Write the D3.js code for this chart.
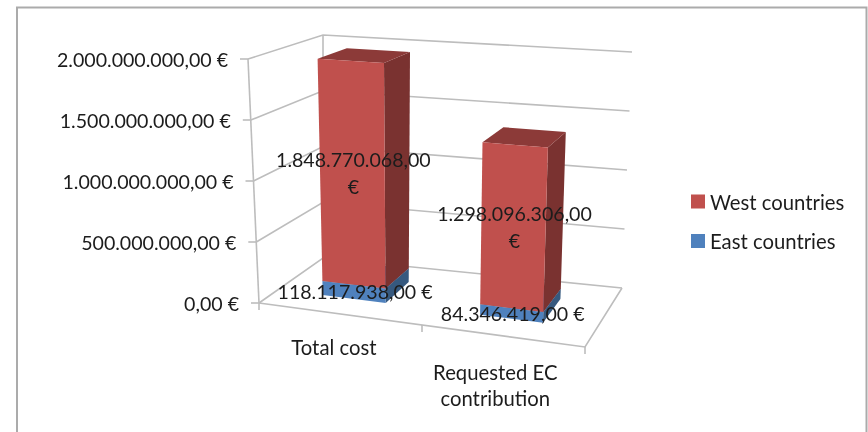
<!DOCTYPE html>
<html><head><meta charset="utf-8">
<script src="https://cdn.jsdelivr.net/npm/d3@7"></script>
<style>
html,body{margin:0;padding:0;background:#fff;overflow:hidden}
svg{display:block;filter:blur(0.45px)}
text{font-family:Lato,sans-serif;font-size:19.6px;fill:#1c1c1c}
text.word{font-size:20.3px}
</style></head><body><svg id="c" width="868" height="432"></svg>
<script>
const categories = ["Total cost", "Requested EC contribution"];
const categoryLines = [["Total cost"], ["Requested EC", "contribution"]];
const westCountries = [1848770068, 1298096306];
const eastCountries = [118117938, 84346419];
const yTicks = [0, 500000000, 1000000000, 1500000000, 2000000000];
const legendLabels = ["West countries", "East countries"];

const svg = d3.select("#c");
const locale = d3.formatLocale({decimal: ",", thousands: ".", grouping: [3], currency: ["", " €"]});
const fmt = v => locale.format(",.2f")(v) + " €";

// 3D box corners as drawn on the page
const floor = {fl: [259, 303], bl: [323, 258], br: [622, 288], fr: [585, 347]};
const roof  = {fl: [248, 59],  bl: [323, 35],  br: [632, 52],  fr: [595, 82]};

const uScale = d3.scaleBand().domain(categories).range([-0.0085, 0.9815]).paddingInner(0.6).paddingOuter(0.3);
const hScale = d3.scaleLinear().domain([0, 2000000000]).range([0, 1]);
const lerp = (a, b, t) => [a[0] + (b[0] - a[0]) * t, a[1] + (b[1] - a[1]) * t];
function plane(q, u, v) { return lerp(lerp(q.fl, q.fr, u), lerp(q.bl, q.br, u), v); }
function project(u, v, value) { return lerp(plane(floor, u, v), plane(roof, u, v), hScale(value)); }
const pathOf = pts => "M" + pts.map(p => p[0].toFixed(1) + "," + p[1].toFixed(1)).join("L") + "Z";
const lineOf = pts => "M" + pts.map(p => p[0].toFixed(1) + "," + p[1].toFixed(1)).join("L");

// frame
svg.append("path").attr("d", "M17,432V7.5H866.5V432").attr("fill", "none").attr("stroke", "#ababab").attr("stroke-width", 2);

const gridColor = "#bdbdbd";
const grid = svg.append("g").attr("fill", "none").attr("stroke", gridColor).attr("stroke-width", 1.6);
// walls
yTicks.forEach(t => {
  grid.append("path").attr("d", lineOf([project(0, 0, t), project(0, 1, t), project(1, 1, t)]));
  const p = project(0, 0, t);
  grid.append("path").attr("d", lineOf([[p[0] - 8, p[1]], p]));
});
grid.append("path").attr("d", lineOf([project(0, 0, 0), project(0, 0, 2000000000)]));
grid.append("path").attr("d", lineOf([project(0, 1, 0), project(0, 1, 2000000000)]));
// floor
grid.append("path").attr("d", lineOf([project(0, 0, 0), project(1, 0, 0), project(1, 1, 0)]));
[0, 0.5, 1].forEach(u => {
  const p = project(u, 0, 0);
  grid.append("path").attr("d", lineOf([p, [p[0], p[1] + 7]]));
});

// bars
const vFront = 0.3, vBack = 0.72;
const series = [
  {name: "East countries", values: eastCountries, front: "#4f81bd", side: "#36597f", top: "#3f6a9c"},
  {name: "West countries", values: westCountries, front: "#c0504d", side: "#7a3230", top: "#8c3a38"}
];
const bars = svg.append("g");
categories.forEach((c, i) => {
  const u0 = uScale(c), u1 = u0 + uScale.bandwidth();
  let base = 0;
  series.forEach(s => {
    const y0 = base, y1 = base + s.values[i];
    bars.append("path").attr("fill", s.side).attr("d", pathOf([
      project(u1, vFront, y0), project(u1, vBack, y0), project(u1, vBack, y1), project(u1, vFront, y1)]));
    bars.append("path").attr("fill", s.top).attr("d", pathOf([
      project(u0, vFront, y1), project(u1, vFront, y1), project(u1, vBack, y1), project(u0, vBack, y1)]));
    bars.append("path").attr("fill", s.front).attr("d", pathOf([
      project(u0, vFront, y0), project(u1, vFront, y0), project(u1, vFront, y1), project(u0, vFront, y1)]));
    base = y1;
  });
});

// tick labels
yTicks.forEach(t => {
  const p = project(0, 0, t);
  svg.append("text").attr("x", p[0] - 20).attr("y", p[1] + 0.5).attr("text-anchor", "end")
    .attr("dominant-baseline", "central").text(fmt(t));
});

// data labels
categories.forEach((c, i) => {
  const um = uScale(c) + uScale.bandwidth() / 2;
  const pe = project(um, vFront, eastCountries[i] / 2);
  svg.append("text").attr("x", pe[0] + 1).attr("y", pe[1]).attr("text-anchor", "middle")
    .attr("dominant-baseline", "central").text(fmt(eastCountries[i]));
  const pw = project(um, vFront, eastCountries[i] + westCountries[i] / 2);
  const parts = fmt(westCountries[i]).split(" ");
  parts.forEach((t, k) => svg.append("text").attr("x", pw[0] + 1).attr("y", pw[1] + (k - 0.5) * 27)
    .attr("text-anchor", "middle").attr("dominant-baseline", "central").text(t));
});

// category labels
categories.forEach((c, i) => {
  const p = project(uScale(c) + uScale.bandwidth() / 2, 0, 0);
  categoryLines[i].forEach((t, k) => svg.append("text").attr("class", "word").attr("x", p[0] - 3).attr("y", p[1] + 33 + i * 4 + k * 26)
    .attr("text-anchor", "middle").attr("dominant-baseline", "central").text(t));
});

// legend
const legendColors = d3.scaleOrdinal().domain(legendLabels).range(["#c0504d", "#4f81bd"]);
const legendY = d3.scalePoint().domain(legendLabels).range([201.5, 241]);
legendLabels.forEach(l => {
  svg.append("rect").attr("x", 691).attr("y", legendY(l) - 7).attr("width", 14).attr("height", 14).attr("fill", legendColors(l));
  svg.append("text").attr("class", "word").attr("x", 710).attr("y", legendY(l)).attr("dominant-baseline", "central").text(l);
});
</script></body></html>
